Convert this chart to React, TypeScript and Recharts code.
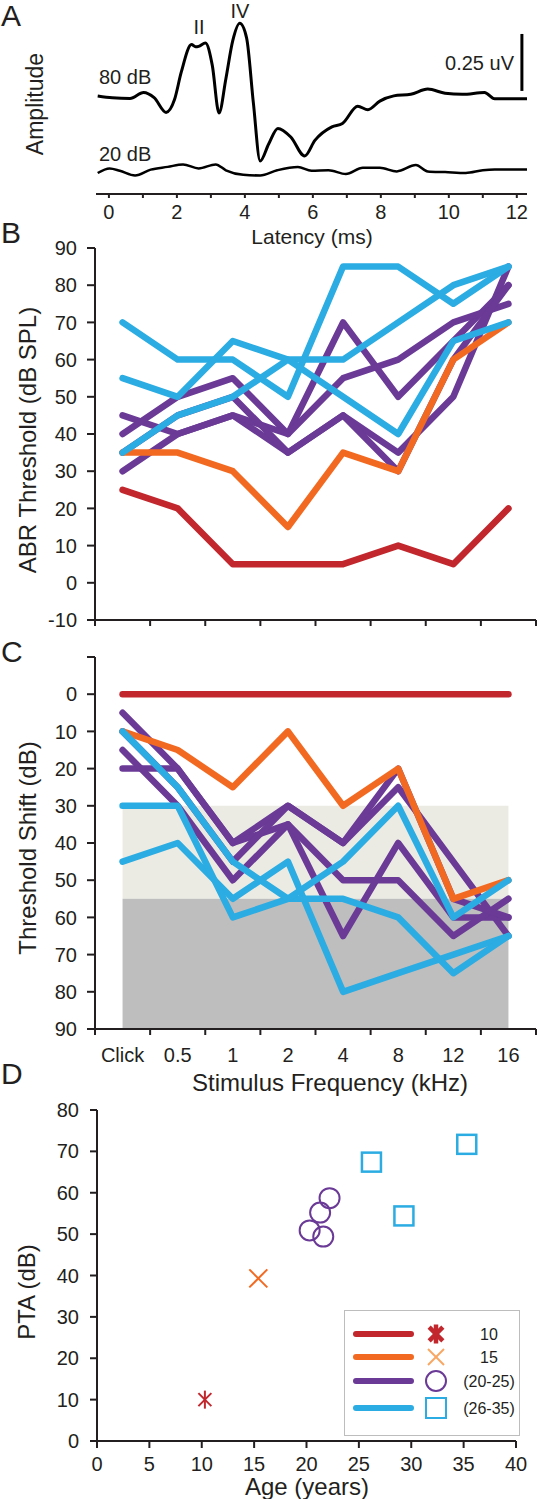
import React from 'react';
import {
  LineChart,
  Line,
  XAxis,
  YAxis,
  ReferenceLine,
  ReferenceArea,
  ScatterChart,
  Scatter,
  Legend,
} from 'recharts';

const FONT = '"Liberation Sans", Arial, Helvetica, sans-serif';
const INK = '#231F20';
const RED = '#C1272D';
const ORANGE = '#F26A21';
const ORANGE_LIGHT = '#F8A662';
const PURPLE = '#6A3A96';
const CYAN = '#2BACE2';

// ---- A: ABR waveforms (latency in ms, amplitude in uV from each trace's baseline)
const LAT_80 = [-0.33, 0.1, 0.62, 1.02, 1.33, 1.68, 1.93, 2.13, 2.43, 2.55, 2.64, 2.84, 3.04, 3.24, 3.44, 3.64, 3.85, 4.05, 4.25, 4.45, 4.7, 4.97, 5.35, 5.76, 6.06, 6.56, 6.87, 7.32, 7.62, 7.97, 8.38, 8.88, 9.38, 9.89, 10.4, 11.05, 11.35, 12.3];
const AMP_80 = [0.008, 0.0, -0.003, 0.023, 0.0, -0.065, -0.008, 0.114, 0.235, 0.225, 0.227, 0.242, 0.144, -0.068, 0.083, 0.25, 0.329, 0.265, -0.023, -0.28, -0.205, -0.136, -0.174, -0.258, -0.189, -0.129, -0.114, -0.038, -0.053, -0.015, 0.008, 0.015, 0.038, 0.02, 0.015, 0.023, -0.005, -0.005];
const LAT_20 = [-0.33, 0.02, 0.32, 0.77, 1.23, 1.73, 2.18, 2.64, 3.14, 3.44, 3.95, 4.45, 4.95, 5.56, 5.96, 6.46, 6.97, 7.47, 7.97, 8.47, 9.03, 9.38, 9.89, 10.5, 11.0, 11.35, 12.3];
const AMP_20 = [-0.015, 0.005, -0.005, -0.026, 0.0, 0.012, 0.023, 0.005, 0.023, -0.003, -0.023, -0.026, -0.003, 0.012, -0.005, -0.003, -0.02, 0.008, 0.008, -0.008, 0.02, -0.008, -0.011, -0.015, -0.003, 0.0, 0.0];
const OFFSET_80 = 0.318;
const LATENCY_TICKS = [0, 1, 2, 3, 4, 5, 6, 7, 8, 9, 10, 11, 12];
const SCALE_BAR = [12.15, 0.348, 0.6]; // latency, from, to (uV)

// ---- B / C: thresholds by stimulus
const FREQS = ['Click', '0.5', '1', '2', '4', '8', '12', '16'];
const BAND_EDGES = [-0.5, 0.5, 1.5, 2.5, 3.5, 4.5, 5.5, 6.5, 7.5];
const BAND_TICKS_C = [-0.5, 0, 0.5, 1, 1.5, 2, 2.5, 3, 3.5, 4, 4.5, 5, 5.5, 6, 6.5, 7, 7.5];
const THR_TICKS = [-10, 0, 10, 20, 30, 40, 50, 60, 70, 80, 90];

const THR_RED = [25, 20, 5, 5, 5, 10, 5, 20];
const THR_ORANGE = [35, 35, 30, 15, 35, 30, 60, 70];
const THR_PURPLE_A = [45, 40, 45, 35, 45, 35, 50, 85];
const THR_PURPLE_B = [40, 50, 55, 40, 70, 50, 65, 80];
const THR_PURPLE_C = [30, 40, 45, 40, 55, 60, 70, 75];
const THR_PURPLE_D = [35, 45, 50, 35, 45, 30, 60, 80];
const THR_CYAN_A = [70, 60, 60, 50, 85, 85, 75, 85];
const THR_CYAN_B = [55, 50, 65, 60, 60, 70, 80, 85];
const THR_CYAN_C = [35, 45, 50, 60, 50, 40, 65, 70];

const SHIFT_RED = [0, 0, 0, 0, 0, 0, 0, 0];
const SHIFT_ORANGE = [10, 15, 25, 10, 30, 20, 55, 50];
const SHIFT_PURPLE_A = [20, 20, 40, 30, 40, 25, 45, 65];
const SHIFT_PURPLE_B = [15, 30, 50, 35, 65, 40, 60, 60];
const SHIFT_PURPLE_C = [5, 20, 40, 35, 50, 50, 65, 55];
const SHIFT_PURPLE_D = [10, 25, 45, 30, 40, 20, 55, 60];
const SHIFT_CYAN_A = [45, 40, 55, 45, 80, 75, 70, 65];
const SHIFT_CYAN_B = [30, 30, 60, 55, 55, 60, 75, 65];
const SHIFT_CYAN_C = [10, 25, 45, 55, 45, 30, 60, 50];

const MILD_BAND = [30, 55];
const SEVERE_BAND = [55, 90];

// ---- D: PTA by age
const PTA_10 = [{ age: 10.3, pta: 10 }];
const PTA_15 = [{ age: 15.4, pta: 39.3 }];
const PTA_20_25 = [
  { age: 20.3, pta: 50.9 },
  { age: 21.3, pta: 55.2 },
  { age: 21.6, pta: 49.4 },
  { age: 22.2, pta: 58.7 },
];
const PTA_26_35 = [
  { age: 26.2, pta: 67.4 },
  { age: 29.3, pta: 54.4 },
  { age: 35.3, pta: 71.7 },
];
const AGE_TICKS = [0, 5, 10, 15, 20, 25, 30, 35, 40];
const PTA_TICKS = [0, 10, 20, 30, 40, 50, 60, 70, 80];
const LEGEND_ROWS = [
  { label: '10', color: RED, marker: 'asterisk' },
  { label: '15', color: ORANGE, marker: 'cross' },
  { label: '(20-25)', color: PURPLE, marker: 'circle' },
  { label: '(26-35)', color: CYAN, marker: 'square' },
];

// draw order: purple under orange under cyan, red on top
const SERIES = [
  { key: 'purpleA', color: PURPLE, thr: THR_PURPLE_A, shift: SHIFT_PURPLE_A },
  { key: 'purpleB', color: PURPLE, thr: THR_PURPLE_B, shift: SHIFT_PURPLE_B },
  { key: 'purpleC', color: PURPLE, thr: THR_PURPLE_C, shift: SHIFT_PURPLE_C },
  { key: 'purpleD', color: PURPLE, thr: THR_PURPLE_D, shift: SHIFT_PURPLE_D },
  { key: 'orange', color: ORANGE, thr: THR_ORANGE, shift: SHIFT_ORANGE },
  { key: 'cyanA', color: CYAN, thr: THR_CYAN_A, shift: SHIFT_CYAN_A },
  { key: 'cyanB', color: CYAN, thr: THR_CYAN_B, shift: SHIFT_CYAN_B },
  { key: 'cyanC', color: CYAN, thr: THR_CYAN_C, shift: SHIFT_CYAN_C },
  { key: 'red', color: RED, thr: THR_RED, shift: SHIFT_RED },
];

const wave80 = LAT_80.map((t, i) => ({ t, amp: AMP_80[i] + OFFSET_80 }));
const wave20 = LAT_20.map((t, i) => ({ t, amp: AMP_20[i] }));

const thrRows = FREQS.map((freq, i) => {
  const row: any = { i, freq };
  SERIES.forEach((s) => (row[s.key] = s.thr[i]));
  return row;
});
const shiftRows = FREQS.map((freq, i) => {
  const row: any = { i, freq };
  SERIES.forEach((s) => (row[s.key] = s.shift[i]));
  return row;
});

const axisLine = { stroke: INK, strokeWidth: 2 };
const tickText = { fill: INK, fontSize: 20, fontFamily: FONT };

const BandTick = (props: any) => {
  const { x, y, payload, labels } = props;
  const v = payload.value;
  if (Number.isInteger(v)) {
    if (!labels) return <g />;
    return (
      <text x={x} y={y + 33} textAnchor="middle" fontSize={20} fontFamily={FONT} fill={INK}>
        {FREQS[v]}
      </text>
    );
  }
  return <line x1={x} x2={x} y1={y} y2={y + 6} stroke={INK} strokeWidth={2} />;
};

const Marker = ({ kind, cx, cy, color, r, w }: any) => {
  if (kind === 'asterisk') {
    const d = r * 0.72;
    return (
      <g stroke={color} strokeWidth={w}>
        <line x1={cx} y1={cy - r} x2={cx} y2={cy + r} />
        <line x1={cx - d} y1={cy - d} x2={cx + d} y2={cy + d} />
        <line x1={cx - d} y1={cy + d} x2={cx + d} y2={cy - d} />
      </g>
    );
  }
  if (kind === 'cross') {
    return (
      <g stroke={color} strokeWidth={w}>
        <line x1={cx - r} y1={cy - r} x2={cx + r} y2={cy + r} />
        <line x1={cx - r} y1={cy + r} x2={cx + r} y2={cy - r} />
      </g>
    );
  }
  if (kind === 'circle') {
    return <circle cx={cx} cy={cy} r={r} fill="none" stroke={color} strokeWidth={w} />;
  }
  return <rect x={cx - r} y={cy - r} width={r * 2} height={r * 2} fill="none" stroke={color} strokeWidth={w} />;
};

const LegendBox = () => {
  const rowY = [24, 47, 71, 98];
  return (
    <svg width={176} height={126} style={{ display: 'block' }}>
      <rect x={0.5} y={0.5} width={175} height={125} fill="#fff" stroke="#BDBDBD" strokeWidth={1} />
      {LEGEND_ROWS.map((row, k) => (
        <g key={row.label}>
          <line x1={12} x2={67} y1={rowY[k]} y2={rowY[k]} stroke={row.color} strokeWidth={6} strokeLinecap="round" />
          <Marker
            kind={row.marker}
            cx={92}
            cy={rowY[k]}
            color={row.marker === 'cross' ? ORANGE_LIGHT : row.color}
            r={row.marker === 'asterisk' ? 9.5 : row.marker === 'cross' ? 8 : 10}
            w={row.marker === 'asterisk' ? 4.5 : 2}
          />
          <text x={145} y={rowY[k] + 6} textAnchor="middle" fontSize={16} fontFamily={FONT} fill={INK}>
            {row.label}
          </text>
        </g>
      ))}
    </svg>
  );
};

const renderLines = (rows: any[]) =>
  SERIES.map((s) => (
    <Line
      key={s.key}
      data={rows}
      dataKey={s.key}
      type="linear"
      stroke={s.color}
      strokeWidth={6.5}
      strokeLinecap="round"
      strokeLinejoin="round"
      dot={false}
      activeDot={false}
      isAnimationActive={false}
    />
  ));

const Title = ({ x, y, text, size = 24, rotate = false, anchor = 'middle' }: any) => (
  <text
    x={x}
    y={y}
    textAnchor={anchor}
    fontSize={size}
    fontFamily={FONT}
    fill={INK}
    transform={rotate ? `rotate(-90 ${x} ${y})` : undefined}
  >
    {text}
  </text>
);

export default function App() {
  return (
    <div style={{ position: 'absolute', left: 0, top: 0, width: 537, height: 1499, background: '#fff', overflow: 'hidden' }}>
      {/* A */}
      <div style={{ position: 'absolute', left: 0, top: 0 }}>
        <LineChart width={537} height={245} margin={{ top: 10, right: 10, bottom: 0, left: 96 }}>
          <XAxis
            type="number"
            dataKey="t"
            domain={[-0.38, 12.3]}
            allowDataOverflow
            ticks={LATENCY_TICKS}
            interval={0}
            tickFormatter={(v: number) => (v % 2 === 0 ? String(v) : '')}
            height={51}
            tickSize={4}
            tickMargin={7}
            axisLine={axisLine}
            tickLine={axisLine}
            tick={tickText}
          />
          <YAxis hide type="number" domain={[-0.108, 0.706]} allowDataOverflow />
          <Line data={wave80} dataKey="amp" type="monotone" stroke="#000" strokeWidth={3} dot={false} activeDot={false} isAnimationActive={false} />
          <Line data={wave20} dataKey="amp" type="monotone" stroke="#000" strokeWidth={2.5} dot={false} activeDot={false} isAnimationActive={false} />
          <ReferenceLine
            segment={[{ x: SCALE_BAR[0], y: SCALE_BAR[1] }, { x: SCALE_BAR[0], y: SCALE_BAR[2] }]}
            stroke="#000"
            strokeWidth={3}
          />
        </LineChart>
      </div>

      {/* B */}
      <div style={{ position: 'absolute', left: 0, top: 230 }}>
        <LineChart width={537} height={420} margin={{ top: 18, right: 1, bottom: 0, left: 0 }}>
          <XAxis
            type="number"
            dataKey="i"
            domain={[-0.5, 7.5]}
            allowDataOverflow
            ticks={BAND_EDGES}
            interval={0}
            height={30}
            tickSize={0}
            tickMargin={0}
            axisLine={axisLine}
            tickLine={false}
            tick={(p: any) => <BandTick {...p} labels={false} />}
          />
          <YAxis
            type="number"
            domain={[-10, 90]}
            allowDataOverflow
            ticks={THR_TICKS}
            interval={0}
            width={95}
            tickSize={8}
            tickMargin={10}
            axisLine={axisLine}
            tickLine={axisLine}
            tick={tickText}
          />
          {renderLines(thrRows)}
        </LineChart>
      </div>

      {/* C */}
      <div style={{ position: 'absolute', left: 0, top: 640 }}>
        <LineChart width={537} height={470} margin={{ top: 17, right: 1, bottom: 0, left: 0 }}>
          <XAxis
            type="number"
            dataKey="i"
            domain={[-0.5, 7.5]}
            allowDataOverflow
            ticks={BAND_TICKS_C}
            interval={0}
            height={81}
            tickSize={0}
            tickMargin={0}
            axisLine={axisLine}
            tickLine={false}
            tick={(p: any) => <BandTick {...p} labels />}
          />
          <YAxis
            type="number"
            domain={[-10, 90]}
            reversed
            allowDataOverflow
            ticks={THR_TICKS}
            interval={0}
            tickFormatter={(v: number) => (v < 0 ? '' : String(v))}
            width={95}
            tickSize={8}
            tickMargin={10}
            axisLine={axisLine}
            tickLine={axisLine}
            tick={tickText}
          />
          <ReferenceArea x1={0} x2={7} y1={MILD_BAND[0]} y2={MILD_BAND[1]} fill="#ECEBE3" fillOpacity={1} stroke="none" ifOverflow="visible" />
          <ReferenceArea x1={0} x2={7} y1={SEVERE_BAND[0]} y2={SEVERE_BAND[1]} fill="#BEBEBE" fillOpacity={1} stroke="none" ifOverflow="visible" />
          {renderLines(shiftRows)}
        </LineChart>
      </div>

      {/* D */}
      <div style={{ position: 'absolute', left: 0, top: 1090 }}>
        <ScatterChart width={537} height={409} margin={{ top: 20, right: 21, bottom: 0, left: 0 }}>
          <XAxis
            type="number"
            dataKey="age"
            domain={[0, 40]}
            allowDataOverflow
            ticks={AGE_TICKS}
            interval={0}
            height={58}
            tickSize={7}
            tickMargin={9}
            axisLine={axisLine}
            tickLine={axisLine}
            tick={tickText}
          />
          <YAxis
            type="number"
            dataKey="pta"
            domain={[0, 80]}
            allowDataOverflow
            ticks={PTA_TICKS}
            interval={0}
            width={97}
            tickSize={7}
            tickMargin={11}
            axisLine={axisLine}
            tickLine={axisLine}
            tick={tickText}
          />
          <Scatter data={PTA_10} isAnimationActive={false} shape={(p: any) => <Marker kind="asterisk" cx={p.cx} cy={p.cy} color={RED} r={9} w={2} />} />
          <Scatter data={PTA_15} isAnimationActive={false} shape={(p: any) => <Marker kind="cross" cx={p.cx} cy={p.cy} color={ORANGE} r={9} w={2} />} />
          <Scatter data={PTA_20_25} isAnimationActive={false} shape={(p: any) => <Marker kind="circle" cx={p.cx} cy={p.cy} color={PURPLE} r={10} w={2} />} />
          <Scatter data={PTA_26_35} isAnimationActive={false} shape={(p: any) => <Marker kind="square" cx={p.cx} cy={p.cy} color={CYAN} r={9.5} w={2.5} />} />
          <Legend
            layout="horizontal"
            verticalAlign="middle"
            align="center"
            wrapperStyle={{ position: 'absolute', left: 344, top: 220, width: 176, height: 126 }}
            content={() => <LegendBox />}
          />
        </ScatterChart>
      </div>

      {/* text overlay: panel letters, axis titles, trace annotations */}
      <svg width={537} height={1499} style={{ position: 'absolute', left: 0, top: 0, pointerEvents: 'none' }}>
        <Title x={1} y={26} text="A" size={30} anchor="start" />
        <Title x={1} y={243} text="B" size={30} anchor="start" />
        <Title x={1} y={662} text="C" size={30} anchor="start" />
        <Title x={1} y={1084} text="D" size={30} anchor="start" />

        <Title x={43} y={104} text="Amplitude" size={23} rotate />
        <Title x={99} y={84} text="80 dB" size={20} anchor="start" />
        <Title x={99} y={161} text="20 dB" size={20} anchor="start" />
        <Title x={199} y={34} text="II" size={20} />
        <Title x={240} y={18} text="IV" size={20} />
        <Title x={514} y={70} text="0.25 uV" size={20} anchor="end" />
        <Title x={312} y={244} text="Latency (ms)" size={21} />

        <Title x={36} y={440} text="ABR Threshold (dB SPL)" size={24} rotate />
        <Title x={36} y={848} text="Threshold Shift (dB)" size={24} rotate />
        <Title x={330} y={1091} text="Stimulus Frequency (kHz)" size={24} />
        <Title x={35} y={1292} text="PTA (dB)" size={24} rotate />
        <Title x={307} y={1495} text="Age (years)" size={24} />
      </svg>
    </div>
  );
}
